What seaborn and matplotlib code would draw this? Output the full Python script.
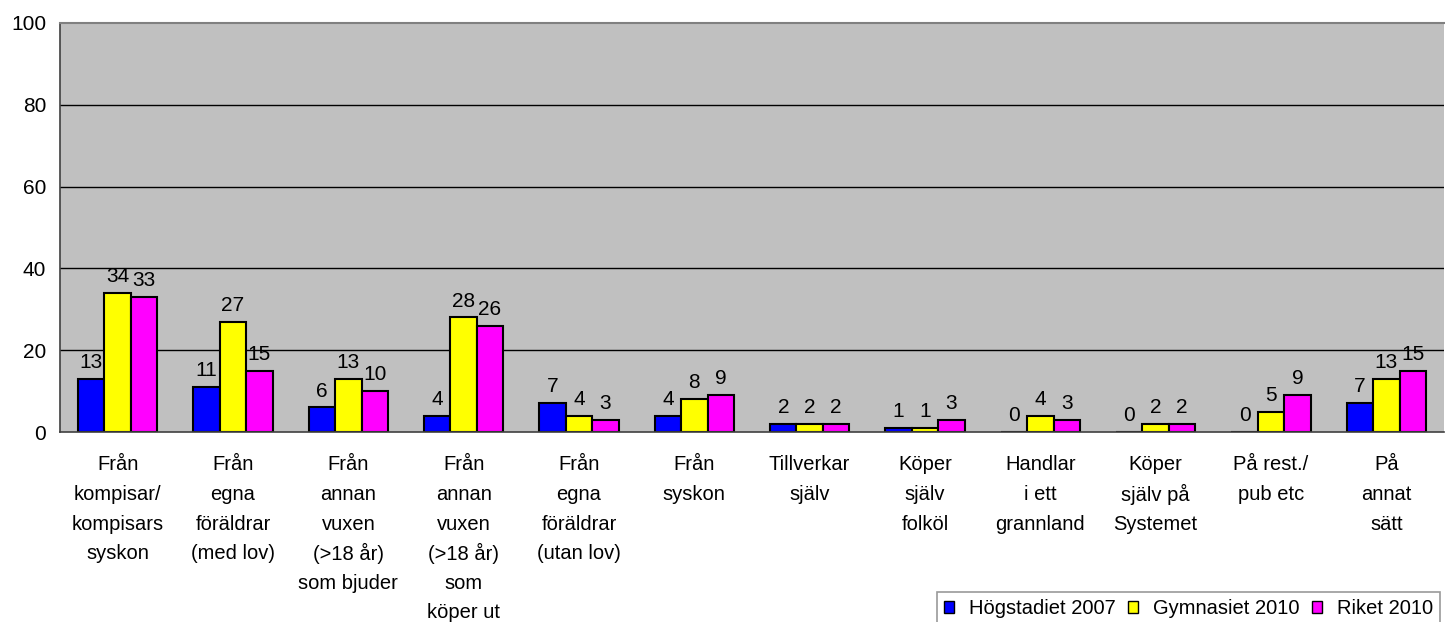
"""
Var får ungdomar tag på alkohol — grupperat stapeldiagram i Excel-stil.
"""
import numpy as np
import pandas as pd
import matplotlib
matplotlib.use('Agg')
import matplotlib.pyplot as plt
import matplotlib.transforms as mtransforms
from matplotlib.patches import Patch
import seaborn as sns

sns.set_style("white")
plt.rcParams['font.family'] = ['Liberation Sans', 'DejaVu Sans']
plt.rcParams['font.size'] = 15
plt.rcParams['text.color'] = 'black'
plt.rcParams['ytick.labelcolor'] = 'black'

# Data
categories = [
    "Från\nkompisar/\nkompisars\nsyskon",
    "Från\negna\nföräldrar\n(med lov)",
    "Från\nannan\nvuxen\n(>18 år)\nsom bjuder",
    "Från\nannan\nvuxen\n(>18 år)\nsom\nköper ut",
    "Från\negna\nföräldrar\n(utan lov)",
    "Från\nsyskon",
    "Tillverkar\nsjälv",
    "Köper\nsjälv\nfolköl",
    "Handlar\ni ett\ngrannland",
    "Köper\nsjälv på\nSystemet",
    "På rest./\npub etc",
    "På\nannat\nsätt",
]
series = ["Högstadiet 2007", "Gymnasiet 2010", "Riket 2010"]
hogstadiet_2007 = [13, 11, 6, 4, 7, 4, 2, 1, 0, 0, 0, 7]
gymnasiet_2010 = [34, 27, 13, 28, 4, 8, 2, 1, 4, 2, 5, 13]
riket_2010 = [33, 15, 10, 26, 3, 9, 2, 3, 3, 2, 9, 15]
yticks = [0, 20, 40, 60, 80, 100]

COLORS = ["#0000FF", "#FFFF00", "#FF00FF"]

df = pd.DataFrame({
    "kategori": categories * 3,
    "serie": np.repeat(series, len(categories)),
    "andel": hogstadiet_2007 + gymnasiet_2010 + riket_2010,
})

fig = plt.figure(figsize=(14.45, 6.22), dpi=100)
ax = fig.add_axes([60 / 1445, 1 - 432 / 622, 1384 / 1445, 409 / 622])
ax.set_facecolor("#C0C0C0")

sns.barplot(data=df, x="kategori", y="andel", hue="serie", order=categories,
            hue_order=series, palette=COLORS, edgecolor="black", linewidth=1.5,
            width=0.685, saturation=1, errorbar=None, legend=False, ax=ax)

for cont in ax.containers:
    ax.bar_label(cont, fmt="%d", padding=5, fontsize=15, color="black")

ax.set_ylim(0, 100)
ax.set_xlim(-0.5, len(categories) - 0.5)
ax.set_yticks(yticks)
ax.set_yticklabels([str(v) for v in yticks], fontsize=15)
for y in yticks[1:-1]:
    ax.axhline(y, color="black", linewidth=1, zorder=0.5)
ax.set_axisbelow(True)

ax.set_xlabel("")
ax.set_ylabel("")
# category labels: one text per line so the line spacing stays even (Excel-like)
ax.set_xticks(range(len(categories)))
ax.set_xticklabels([])
ax.tick_params(axis="x", length=0)
line_step = 29.6  # px
for i, cat in enumerate(categories):
    for k, line in enumerate(cat.split("\n")):
        tr = mtransforms.offset_copy(ax.get_xaxis_transform(), fig=fig,
                                     y=-(33 + line_step * k), units="dots")
        ax.text(i, 0, line, transform=tr, ha="center", va="center",
                fontsize=14.5, color="black", clip_on=False)
ax.set_xticks(np.arange(-0.5, len(categories) + 0.5, 1), minor=True)
ax.tick_params(axis="x", which="minor", length=6, color="#808080", width=1.2)
ax.tick_params(axis="y", length=6, color="#404040", width=1.2, pad=4,
               labelcolor="black")

for side in ["left", "bottom"]:
    ax.spines[side].set_color("#404040")
    ax.spines[side].set_linewidth(1.2)
ax.spines["top"].set_color("#808080")
ax.spines["top"].set_linewidth(1.5)
ax.spines["right"].set_visible(False)

handles = [Patch(facecolor=c, edgecolor="black", label=s) for c, s in zip(COLORS, series)]
leg = fig.legend(handles=handles, loc="lower right", bbox_to_anchor=(1440 / 1445, -3 / 622),
                 ncol=3, frameon=True, fancybox=False, fontsize=14.5,
                 handlelength=0.5, handleheight=0.5, handletextpad=0.75,
                 columnspacing=0.6, borderpad=0.35, borderaxespad=0)
leg.get_frame().set_edgecolor("#808080")
leg.get_frame().set_linewidth(1.2)
for t in leg.get_texts():
    t.set_color("black")

plt.savefig("out.png", dpi=100)
plt.close()
